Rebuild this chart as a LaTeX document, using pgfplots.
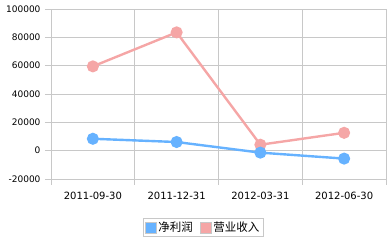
\documentclass[border=0pt]{standalone}
\usepackage{pgfplots}
\pgfplotsset{compat=1.18}
\usepackage{fontspec}
\setmainfont{DejaVu Sans}
\newfontfamily\cjk{Noto Sans CJK SC}
\definecolor{netblue}{RGB}{102,178,255}
\definecolor{revpink}{RGB}{245,166,166}
\definecolor{gridgray}{RGB}{200,200,200}
\begin{document}
\begin{tikzpicture}[x=1pt,y=1pt]
\begin{axis}[at={(0,0)}, anchor=south west, scale only axis,
  width=335pt, height=170pt,
  xmin=0, xmax=4, ymin=-20000, ymax=100000,
  xtick={0,1,2,3,4}, xticklabels={},
  extra x ticks={0.5,1.5,2.5,3.5},
  extra x tick labels={2011-09-30,2011-12-31,2012-03-31,2012-06-30},
  extra x tick style={grid=none, major tick length=0pt},
  ytick={-20000,0,20000,40000,60000,80000,100000},
  yticklabels={-20000,0,20000,40000,60000,80000,100000},
  scaled y ticks=false,
  grid=major, grid style={gridgray, line width=0.8pt},
  axis line style={gridgray, line width=0.8pt},
  tick style={gridgray, line width=0.8pt},
  tick align=outside, major tick length=6pt,
  xtick pos=bottom, ytick pos=left,
  yticklabel style={font=\fontsize{9}{10}\selectfont, xshift=-1pt},
  xticklabel style={font=\fontsize{10}{11}\selectfont, yshift=-10pt},
  legend style={at={(axis description cs:0.454,-0.229)}, anchor=north,
    legend columns=2, draw=gridgray, line width=0.8pt,
    font=\cjk\fontsize{11.5}{12}\selectfont, inner sep=1.5pt,
    /tikz/every even column/.append style={column sep=5pt}},
  legend image code/.code={\filldraw[#1, mark=none, solid, line width=0.6pt, draw=gridgray] (0pt,-5.5pt) rectangle (11pt,5.5pt);},
  reverse legend,
]
\addplot[color=revpink, line width=2.4pt, mark=*, mark size=4.8pt, mark options={solid}]
  coordinates {(0.5,59500) (1.5,83500) (2.5,4200) (3.5,12600)};
\addlegendentry{营业收入}
\addplot[color=netblue, line width=2.4pt, mark=*, mark size=4.8pt, mark options={solid}]
  coordinates {(0.5,8400) (1.5,6100) (2.5,-1400) (3.5,-5600)};
\addlegendentry{净利润}
\end{axis}
\pgfresetboundingbox
\path (-51,-61) rectangle (339,179);
\end{tikzpicture}
\end{document}
